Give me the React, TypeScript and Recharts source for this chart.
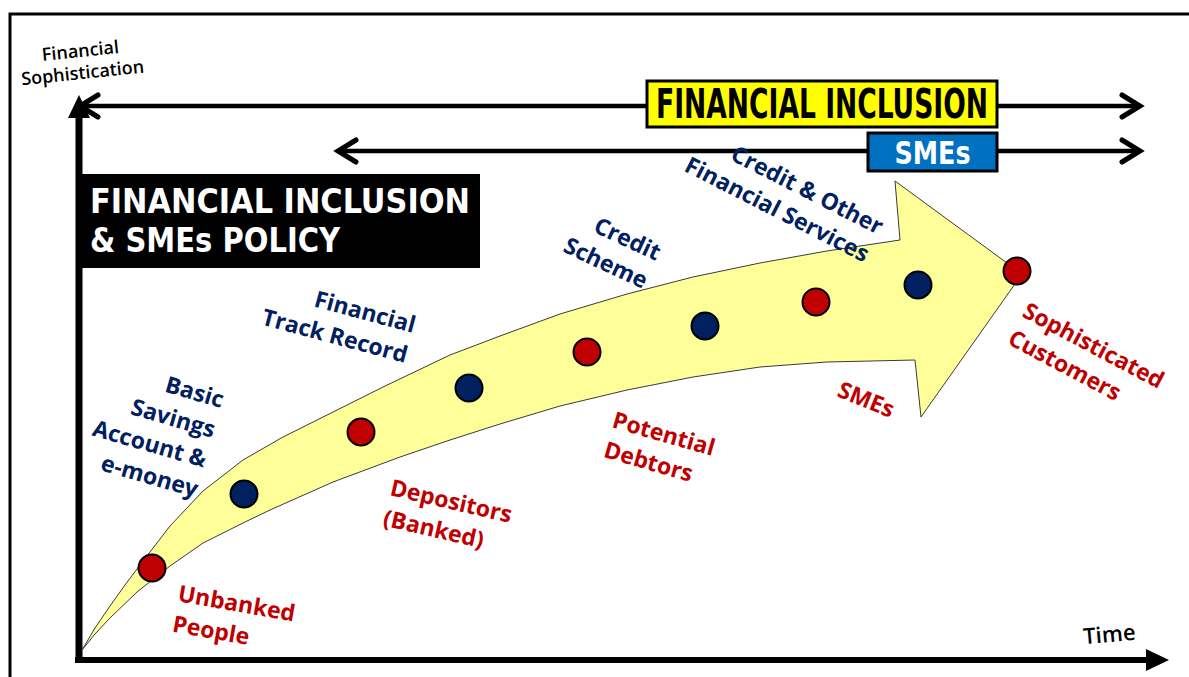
import React from 'react';
import { ScatterChart, Scatter, XAxis, YAxis, ReferenceLine, ReferenceArea } from 'recharts';

const W = 1189;
const H = 677;

// outline of the big yellow arrow, [time, sophistication]
const arrowUpperEdge: [number, number][] = [
  [0.3, 1.0], [1.6, 3.2], [3.1, 5.4], [4.6, 7.5], [6.1, 9.5], [9.1, 13.4], [12.4, 16.9],
  [16.4, 20.0], [20.4, 22.3], [25.4, 24.8], [30.4, 27.3], [37.1, 30.5], [42.1, 32.4],
  [48.1, 34.6], [54.8, 36.6], [61.4, 38.3], [68.1, 39.7], [74.8, 40.9], [82.1, 42.0],
];
const arrowHead: [number, number][] = [[81.6, 47.9], [94.3, 38.6], [84.2, 24.3], [83.6, 30.0]];
const arrowLowerEdge: [number, number][] = [
  [74.8, 29.8], [68.1, 29.3], [61.4, 28.3], [54.8, 27.0], [48.1, 25.4], [42.1, 23.6],
  [37.1, 22.0], [32.1, 20.3], [25.4, 17.8], [19.1, 15.0], [16.4, 13.7], [12.4, 11.7],
  [9.1, 9.4], [5.8, 6.8], [3.1, 4.2], [1.6, 2.6],
];

// stages along the arrow
const stageTime = [7.3, 16.5, 28.2, 39.0, 50.8, 62.6, 73.7, 83.9, 93.8];
const stageLevel = [9.2, 16.6, 22.8, 27.2, 30.8, 33.4, 35.8, 37.5, 38.9];
const stageLabels = [
  'Unbanked\nPeople',
  'Basic\nSavings\nAccount &\ne-money',
  'Depositors\n(Banked)',
  'Financial\nTrack Record',
  'Potential\nDebtors',
  'Credit\nScheme',
  'SMEs',
  'Credit & Other\nFinancial Services',
  'Sophisticated\nCustomers',
];
const stageKind = ['customer', 'product', 'customer', 'product', 'customer', 'product', 'customer', 'product', 'customer'];

// policy ranges drawn as arrows at the top
const rangeNames = ['FINANCIAL INCLUSION', 'SMEs'];
const rangeStart = [0.1, 25.9];
const rangeEnd = [106.1, 106.1];
const rangeLevel = [55.4, 50.9];

// axis extents
const timeMax = 108;
const levelMax = 55.5;

// layout only
const labelPlacement = [
  { dx: 25, dy: 33, angle: 10, anchor: 'start' },
  { dx: -23, dy: -86, angle: 16, anchor: 'end' },
  { dx: 28, dy: 63, angle: 13, anchor: 'start' },
  { dx: -56, dy: -55, angle: 15, anchor: 'end' },
  { dx: 24, dy: 75, angle: 16, anchor: 'start' },
  { dx: -49, dy: -65, angle: 25, anchor: 'end' },
  { dx: 20, dy: 94, angle: 22, anchor: 'start' },
  { dx: -40, dy: -50, angle: 27, anchor: 'end' },
  { dx: 4, dy: 45, angle: 28, anchor: 'start' },
];
const badges = [
  { x1: 56.8, x2: 91.8, y1: 53.3, y2: 57.9, fill: '#ffff00', color: '#000', fontSize: 40, textWidth: 332 },
  { x1: 78.9, x2: 91.8, y1: 48.9, y2: 52.7, fill: '#0070c0', color: '#fff', fontSize: 32, textWidth: 76 },
];

const kindColor: Record<string, string> = { customer: '#c00000', product: '#002060' };
const labelFont = "'Open Sans', 'Noto Sans', sans-serif";
const titleFont = "'Liberation Sans Narrow', 'DejaVu Sans Condensed', 'Liberation Sans', sans-serif";

const outline = [...arrowUpperEdge, ...arrowHead, ...arrowLowerEdge].map(([x, y]) => ({ x, y }));
const stages = stageTime.map((x, i) => ({
  x,
  y: stageLevel[i],
  label: stageLabels[i],
  kind: stageKind[i],
  i,
}));

const StageDot = (props: any) => {
  const { cx, cy, payload } = props;
  const p = labelPlacement[payload.i];
  const color = kindColor[payload.kind];
  const lines = payload.label.split('\n');
  return (
    <g>
      <circle cx={cx} cy={cy} r={13.5} fill={color} stroke="#000" strokeWidth={2} />
      <text
        transform={`translate(${cx + p.dx},${cy + p.dy}) rotate(${p.angle})`}
        textAnchor={p.anchor}
        fill={color}
        fontFamily={labelFont}
        fontWeight={700}
        fontSize={23}
      >
        {lines.map((l: string, k: number) => (
          <tspan key={k} x={0} dy={k === 0 ? 0 : 31}>{l}</tspan>
        ))}
      </text>
    </g>
  );
};

const Badge = (b: typeof badges[number], text: string) => (props: any) => {
  const { x, y, width, height } = props;
  return (
    <g>
      <rect x={x} y={y} width={width} height={height} fill={b.fill} stroke="#000" strokeWidth={3} />
      <text
        x={x + width / 2}
        y={y + height / 2 + b.fontSize * 0.36}
        textAnchor="middle"
        fill={b.color}
        fontFamily={titleFont}
        fontWeight={700}
        fontSize={b.fontSize}
        textLength={b.textWidth}
        lengthAdjust="spacingAndGlyphs"
      >
        {text}
      </text>
    </g>
  );
};

export default function App() {
  return (
    <div style={{ position: 'absolute', left: 0, top: 0, width: W, height: H, background: '#fff' }}>
      <ScatterChart width={W} height={H} margin={{ top: 105, right: 30, bottom: 17, left: 79 }}>
        <XAxis type="number" dataKey="x" domain={[0, timeMax]} hide />
        <YAxis type="number" dataKey="y" domain={[0, levelMax]} hide />
        {/* axes with arrow heads */}
        <ReferenceLine
          segment={[{ x: -0.4, y: 0 }, { x: timeMax, y: 0 }]}
          stroke="#000"
          strokeWidth={6}
          markerEnd="url(#axisHead)"
          ifOverflow="visible"
        />
        <ReferenceLine
          segment={[{ x: 0, y: -0.3 }, { x: 0, y: levelMax }]}
          stroke="#000"
          strokeWidth={7}
          markerEnd="url(#axisHead)"
          ifOverflow="visible"
        />
        {rangeNames.map((name, i) => (
          <ReferenceLine
            key={`l-${name}`}
            segment={[{ x: rangeStart[i], y: rangeLevel[i] }, { x: badges[i].x1, y: rangeLevel[i] }]}
            stroke="#000"
            strokeWidth={4.5}
            markerStart="url(#chevron)"
            ifOverflow="visible"
          />
        ))}
        {rangeNames.map((name, i) => (
          <ReferenceLine
            key={`r-${name}`}
            segment={[{ x: badges[i].x2, y: rangeLevel[i] }, { x: rangeEnd[i], y: rangeLevel[i] }]}
            stroke="#000"
            strokeWidth={4.5}
            markerEnd="url(#chevron)"
            ifOverflow="visible"
          />
        ))}
        {rangeNames.map((name, i) => (
          <ReferenceArea
            key={`b-${name}`}
            x1={badges[i].x1}
            x2={badges[i].x2}
            y1={badges[i].y1}
            y2={badges[i].y2}
            ifOverflow="visible"
            shape={Badge(badges[i], name)}
          />
        ))}
        <Scatter
          data={outline}
          line={{ fill: '#ffff99', stroke: '#3a3a3a', strokeWidth: 1 }}
          lineJointType="linearClosed"
          shape={() => <g />}
          isAnimationActive={false}
        />
        <Scatter data={stages} shape={StageDot} isAnimationActive={false} />
      </ScatterChart>

      <svg
        width={W}
        height={H}
        style={{ position: 'absolute', left: 0, top: 0, pointerEvents: 'none' }}
      >
        <defs>
          <marker id="axisHead" markerUnits="userSpaceOnUse" markerWidth={24} markerHeight={22} refX={13} refY={11} orient="auto-start-reverse">
            <path d="M0,0 L23,11 L0,22 Z" fill="#000" />
          </marker>
          <marker id="chevron" markerUnits="userSpaceOnUse" markerWidth={30} markerHeight={30} refX={22} refY={15} orient="auto-start-reverse" style={{ overflow: 'visible' }}>
            <path d="M4,4 L22,15 L4,26" fill="none" stroke="#000" strokeWidth={5} strokeLinecap="round" />
          </marker>
        </defs>
        <rect x={10} y={14} width={1200} height={700} fill="none" stroke="#000" strokeWidth={3} />
        <text transform="translate(81,57) rotate(-6)" textAnchor="middle" fontFamily={labelFont} fontWeight={600} fontSize={18} fill="#000">
          <tspan x={0} dy={0}>Financial</tspan>
          <tspan x={0} dy={22}>Sophistication</tspan>
        </text>
        <text transform="translate(1110,642) rotate(-5)" textAnchor="middle" fontFamily={labelFont} fontWeight={600} fontSize={22} fill="#000">
          Time
        </text>
        <rect x={79} y={174} width={401} height={94} fill="#000" />
        <text x={90} y={213} fill="#fff" fontFamily={titleFont} fontWeight={700} fontSize={34} textLength={380} lengthAdjust="spacingAndGlyphs">
          FINANCIAL INCLUSION
        </text>
        <text x={90} y={252} fill="#fff" fontFamily={titleFont} fontWeight={700} fontSize={34} textLength={250} lengthAdjust="spacingAndGlyphs">
          &amp; SMEs POLICY
        </text>
      </svg>
    </div>
  );
}
